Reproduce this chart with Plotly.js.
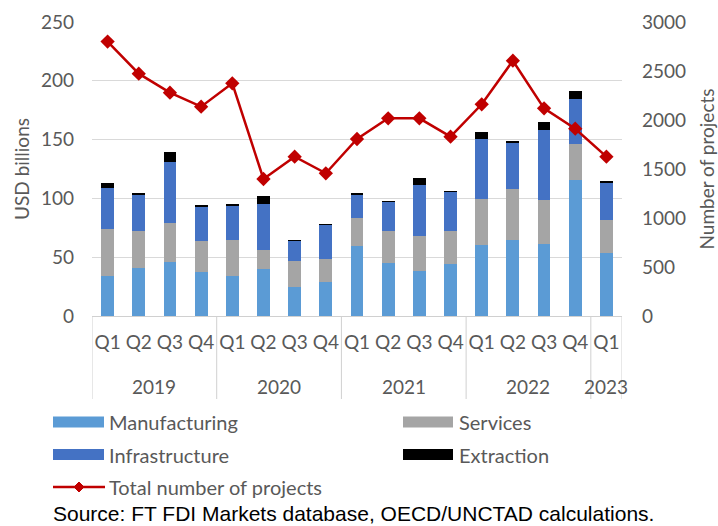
<!DOCTYPE html>
<html>
<head>
<meta charset="utf-8">
<script src="https://cdn.plot.ly/plotly-3.0.1.min.js"></script>
<style>
html,body{margin:0;padding:0;background:#fff;}
#chart{width:718px;height:526px;}
</style>
</head>
<body>
<div id="chart"></div>
<script>
const years = ['2019','2019','2019','2019','2020','2020','2020','2020','2021','2021','2021','2021','2022','2022','2022','2022','2023'];
const quarters = ['Q1','Q2','Q3','Q4','Q1','Q2','Q3','Q4','Q1','Q2','Q3','Q4','Q1','Q2','Q3','Q4','Q1'];
const manufacturing = [34, 40.5, 46, 37.4, 34, 39.7, 24.4, 28.9, 59.5, 44.8, 38.5, 43.9, 60.4, 64.9, 61.5, 115.9, 53.9];
const services = [40.3, 31.8, 33, 26, 30.6, 16.1, 22.7, 19.6, 23.8, 27.5, 29.5, 28.4, 39.1, 43.1, 36.9, 30.6, 28];
const infrastructure = [34.8, 30.9, 52, 29.5, 29.2, 39.4, 16.7, 29.2, 19.9, 24.4, 43.7, 32.9, 51.3, 38.8, 60, 38, 30.9];
const extraction = [3.7, 1.1, 8.7, 1.1, 1.2, 6.6, 1.1, 0.3, 1.1, 1.1, 5.4, 0.8, 5.4, 2, 6.6, 6.8, 2];
const projects = [2800, 2473, 2279, 2136, 2374, 1398, 1626, 1456, 1806, 2017, 2017, 1830, 2160, 2605, 2119, 1911, 1626];

const seriesNames = ['Manufacturing', 'Services', 'Infrastructure', 'Extraction', 'Total number of projects'];
const colors = ['#5b9bd5', '#a5a5a5', '#4472c4', '#000000', '#c00000'];
const sourceText = 'Source: FT FDI Markets database, OECD/UNCTAD calculations.';

const FONT = 'Lato, "Open Sans", sans-serif';
const GREY = '#595959';
const LINEGREY = '#d0d0d0';

// unique category per period, displayed as its quarter
const cats = years.map((y, i) => y + ' ' + quarters[i]);

const barData = [manufacturing, services, infrastructure, extraction];
const traces = barData.map((vals, i) => ({
  type: 'bar', x: cats, y: vals, name: seriesNames[i],
  marker: {color: colors[i], line: {width: 0}},
  showlegend: false, hoverinfo: 'skip'
}));
traces.push({
  type: 'scatter', mode: 'lines+markers', x: cats, y: projects, name: seriesNames[4],
  yaxis: 'y2',
  line: {color: colors[4], width: 2.5},
  marker: {symbol: 'diamond', size: 11, color: colors[4]},
  showlegend: false, hoverinfo: 'skip'
});

// plot area in pixels
const L = 92, R = 622, T = 22, B = 316;
const px = v => (v - L) / (R - L);
const py = v => (B - v) / (B - T);

const shapes = [];
const annotations = [];

// year group labels and dividers (Excel-style two-level axis)
const groups = [];
years.forEach((y, i) => {
  if (!groups.length || groups[groups.length - 1].year !== y) groups.push({year: y, start: i, end: i});
  else groups[groups.length - 1].end = i;
});
groups.forEach((g, k) => {
  annotations.push({xref: 'x', yref: 'paper', x: (g.start + g.end) / 2, y: py(386),
    xanchor: 'center', yanchor: 'middle', showarrow: false, text: g.year,
    font: {family: FONT, size: 19, color: GREY}});
  if (k === 0) {
    shapes.push({type: 'line', xref: 'x', yref: 'paper', x0: g.start - 0.5, x1: g.start - 0.5,
      y0: py(316), y1: py(399), line: {color: LINEGREY, width: 1}});
  }
  shapes.push({type: 'line', xref: 'x', yref: 'paper', x0: g.end + 0.5, x1: g.end + 0.5,
    y0: py(316), y1: py(399), line: {color: LINEGREY, width: 1}});
});

function swatch(x0, x1, yc, color, idx, textX) {
  shapes.push({type: 'rect', xref: 'paper', yref: 'paper',
    x0: px(x0), x1: px(x1), y0: py(yc + 5.5), y1: py(yc - 5.5),
    fillcolor: color, line: {width: 0}});
  annotations.push({xref: 'paper', yref: 'paper', x: px(textX), y: py(yc),
    xanchor: 'left', yanchor: 'middle', showarrow: false,
    text: seriesNames[idx], font: {family: FONT, size: 20, color: GREY}});
}
swatch(53, 104, 422, colors[0], 0, 107);
swatch(403, 453, 422, colors[1], 1, 457);
swatch(53, 104, 454.5, colors[2], 2, 107);
swatch(403, 453, 454.5, colors[3], 3, 457);
// line legend
shapes.push({type: 'line', xref: 'paper', yref: 'paper',
  x0: px(53), x1: px(105), y0: py(487), y1: py(487),
  line: {color: colors[4], width: 2.5}});
(function(){
  const cx = 79, cy = 487, d = 5;
  const p = `M ${px(cx)} ${py(cy - d)} L ${px(cx + d)} ${py(cy)} L ${px(cx)} ${py(cy + d)} L ${px(cx - d)} ${py(cy)} Z`;
  shapes.push({type: 'path', xref: 'paper', yref: 'paper', path: p,
    fillcolor: colors[4], line: {color: colors[4], width: 1}});
})();
annotations.push({xref: 'paper', yref: 'paper', x: px(107), y: py(487),
  xanchor: 'left', yanchor: 'middle', showarrow: false,
  text: seriesNames[4], font: {family: FONT, size: 20, color: GREY}});
annotations.push({xref: 'paper', yref: 'paper', x: px(51), y: py(513),
  xanchor: 'left', yanchor: 'middle', showarrow: false,
  text: sourceText, font: {family: '"Liberation Sans", Arial, sans-serif', size: 21, color: '#000000'}});

const layout = {
  width: 718, height: 526,
  margin: {l: L, r: 718 - R, t: T, b: 526 - B, pad: 0},
  paper_bgcolor: '#ffffff', plot_bgcolor: '#ffffff',
  barmode: 'stack', bargap: 0.59,
  showlegend: false,
  font: {family: FONT, size: 19, color: GREY},
  xaxis: {
    type: 'category',
    range: [-0.5, cats.length - 0.5], autorange: false,
    tickmode: 'array', tickvals: cats, ticktext: quarters,
    showline: true, linecolor: LINEGREY, linewidth: 1,
    tickangle: 0, ticklabelstandoff: 9,
    tickfont: {family: FONT, size: 19, color: GREY},
    ticks: '', showgrid: false, zeroline: false, fixedrange: true
  },
  yaxis: {
    range: [0, 250], dtick: 50, tick0: 0,
    showgrid: true, gridcolor: '#d9d9d9', gridwidth: 1,
    zeroline: false, showline: false, ticks: '',
    ticklabelstandoff: 17,
    tickfont: {family: FONT, size: 19, color: GREY},
    title: {text: 'USD billions', font: {family: FONT, size: 19, color: GREY}, standoff: 6}
  },
  yaxis2: {
    overlaying: 'y', side: 'right',
    range: [0, 3000], dtick: 500, tick0: 0,
    showgrid: false, zeroline: false, showline: false, ticks: '',
    ticklabelstandoff: 19,
    tickfont: {family: FONT, size: 19, color: GREY},
    title: {text: 'Number of projects', font: {family: FONT, size: 19, color: GREY}, standoff: 16}
  },
  shapes: shapes,
  annotations: annotations
};

Plotly.newPlot('chart', traces, layout, {displayModeBar: false, staticPlot: true});
</script>
</body>
</html>
